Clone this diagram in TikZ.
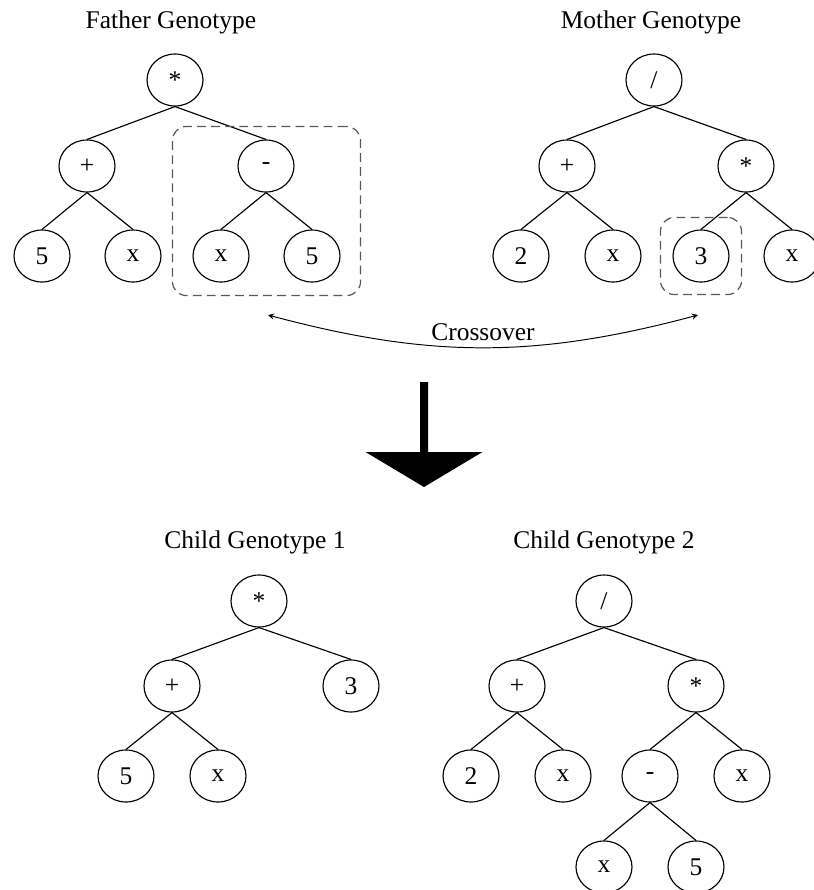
\documentclass[tikz,border=0pt]{standalone}
\usepackage{fontspec}
\setmainfont{Liberation Serif}
\usepackage{tikz}
\usetikzlibrary{arrows,shapes,fit}

\newcommand{\mulop}{\raisebox{-0.35ex}{*}}

\begin{document}
\begin{tikzpicture}[font=\fontsize{14.5}{17}\selectfont,
        gene/.style={draw, ellipse, inner sep=0pt, minimum width=1.12cm, minimum height=1.04cm, line width=0.65pt},
        link/.style={line width=0.65pt},
        pick/.style={draw=black!65, dash pattern=on 5pt off 3pt, rounded corners=8pt, line width=0.7pt}]
        \useasboundingbox (0,0) rectangle (16.28,-17.8);

        % parents
        \node (FT) at (3.42,-0.44) {Father Genotype};
        \node (MT) at (13.02,-0.44) {Mother Genotype};

        \node[gene] (F1) at (3.5,-1.6) {\mulop};
        \node[gene] (F2) at (1.74,-3.32) {+};
        \node[gene] (F3) at (5.32,-3.32) {-};
        \node[gene] (F4) at (0.84,-5.12) {5};
        \node[gene] (F5) at (2.66,-5.12) {x};
        \node[gene] (F6) at (4.42,-5.12) {x};
        \node[gene] (F7) at (6.24,-5.12) {5};

        \draw[link] (F1.south) -- (F2.north);
        \draw[link] (F1.south) -- (F3.north);
        \draw[link] (F2.south) -- (F4.north);
        \draw[link] (F2.south) -- (F5.north);
        \draw[link] (F3.south) -- (F6.north);
        \draw[link] (F3.south) -- (F7.north);

        \node[gene] (M1) at (13.08,-1.6) {/};
        \node[gene] (M2) at (11.34,-3.32) {+};
        \node[gene] (M3) at (14.92,-3.32) {\mulop};
        \node[gene] (M4) at (10.42,-5.12) {2};
        \node[gene] (M5) at (12.26,-5.12) {x};
        \node[gene] (M6) at (14.02,-5.12) {3};
        \node[gene] (M7) at (15.84,-5.12) {x};

        \draw[link] (M1.south) -- (M2.north);
        \draw[link] (M1.south) -- (M3.north);
        \draw[link] (M2.south) -- (M4.north);
        \draw[link] (M2.south) -- (M5.north);
        \draw[link] (M3.south) -- (M6.north);
        \draw[link] (M3.south) -- (M7.north);

        \node[pick, fit=(F3) (F6) (F7), inner xsep=0.4cm, inner ysep=0.26cm] (FB) {};
        \node[pick, fit=(M6), inner sep=0.24cm] (MB) {};

        % crossover
        \coordinate (CL) at (5.36,-6.3);
        \coordinate (CR) at (13.96,-6.3);
        \draw[<->,>=stealth, line width=0.55pt] (CL) to[bend right=15] node[above]{Crossover} (CR);

        \fill (8.4,-7.64) -- (8.56,-7.64) -- (8.56,-9.04) -- (9.65,-9.04)
                -- (8.48,-9.74) -- (7.31,-9.04) -- (8.4,-9.04) -- cycle;

        % children
        \node (CT1) at (5.1,-10.84) {Child Genotype 1};
        \node (CT2) at (12.08,-10.84) {Child Genotype 2};

        \node[gene] (C1) at (5.18,-12.02) {\mulop};
        \node[gene] (C2) at (3.44,-13.72) {+};
        \node[gene] (C3) at (7.02,-13.72) {3};
        \node[gene] (C4) at (2.52,-15.52) {5};
        \node[gene] (C5) at (4.36,-15.52) {x};

        \draw[link] (C1.south) -- (C2.north);
        \draw[link] (C1.south) -- (C3.north);
        \draw[link] (C2.south) -- (C4.north);
        \draw[link] (C2.south) -- (C5.north);

        \node[gene] (D1) at (12.08,-12.02) {/};
        \node[gene] (D2) at (10.34,-13.72) {+};
        \node[gene] (D3) at (13.92,-13.72) {\mulop};
        \node[gene] (D4) at (9.42,-15.52) {2};
        \node[gene] (D5) at (11.26,-15.52) {x};
        \node[gene] (D6) at (13.0,-15.52) {-};
        \node[gene] (D7) at (14.84,-15.52) {x};
        \node[gene] (D8) at (12.08,-17.34) {x};
        \node[gene] (D9) at (13.92,-17.34) {5};

        \draw[link] (D1.south) -- (D2.north);
        \draw[link] (D1.south) -- (D3.north);
        \draw[link] (D2.south) -- (D4.north);
        \draw[link] (D2.south) -- (D5.north);
        \draw[link] (D3.south) -- (D6.north);
        \draw[link] (D3.south) -- (D7.north);
        \draw[link] (D6.south) -- (D8.north);
        \draw[link] (D6.south) -- (D9.north);
    \end{tikzpicture}
\end{document}
